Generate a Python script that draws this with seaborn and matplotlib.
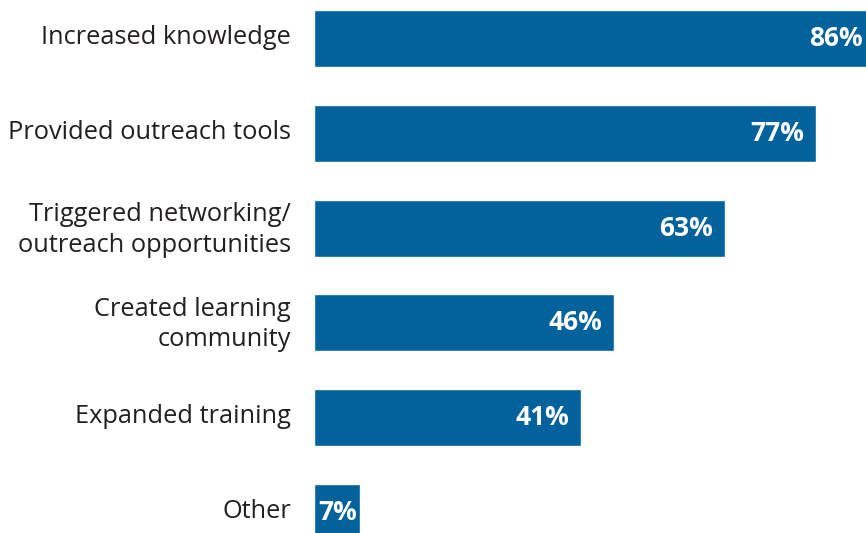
import matplotlib
matplotlib.use("Agg")
import matplotlib.pyplot as plt
import matplotlib.transforms as mtransforms
import seaborn as sns
import pandas as pd

categories = ["Increased knowledge", "Provided outreach tools",
              "Triggered networking/\noutreach opportunities",
              "Created learning\ncommunity", "Expanded training", "Other"]
values = [86, 77, 63, 46, 41, 7]
value_labels = ["86%", "77%", "63%", "46%", "41%", "7%"]

df = pd.DataFrame({"category": categories, "value": values})

sns.set_theme(style="white")
plt.rcParams['font.family'] = ['Open Sans', 'DejaVu Sans']

fig = plt.figure(figsize=(8.66, 5.33), dpi=100)
ax = fig.add_axes([314/866, 0, 552/866, 1])
color = "#03629C"
sns.barplot(data=df, x="value", y="category", orient="h", color=color,
            width=0.6, saturation=1, ax=ax)

ax.set_xlim(0, 552/6.52)
ax.set_ylim(5 + (533-512.5)/94.8, -38.5/94.8)

for i, (v, lab) in enumerate(zip(values, value_labels)):
    if v < 10:
        ax.annotate(lab, xy=(v / 2, i), xytext=(0.5, 0), textcoords="offset points",
                    ha="center", va="center", color="white",
                    fontsize=19, fontweight="bold", annotation_clip=False)
    else:
        ax.annotate(lab, xy=(v, i), xytext=(-8.5, 0), textcoords="offset points",
                    ha="right", va="center", color="white",
                    fontsize=19, fontweight="bold", annotation_clip=False)

ax.set_xlabel("")
ax.set_ylabel("")
ax.set_xticks([])
for s in ax.spines.values():
    s.set_visible(False)
ax.tick_params(axis="y", length=0, pad=16.5)
shift = mtransforms.ScaledTranslation(0, 3/72, fig.dpi_scale_trans)
for t in ax.get_yticklabels():
    t.set_fontsize(18.3)
    t.set_color("#231F20")
    t.set_multialignment("right")
    t.set_linespacing(1.3)
    t.set_transform(t.get_transform() + shift)

fig.savefig("out.png", dpi=100)
